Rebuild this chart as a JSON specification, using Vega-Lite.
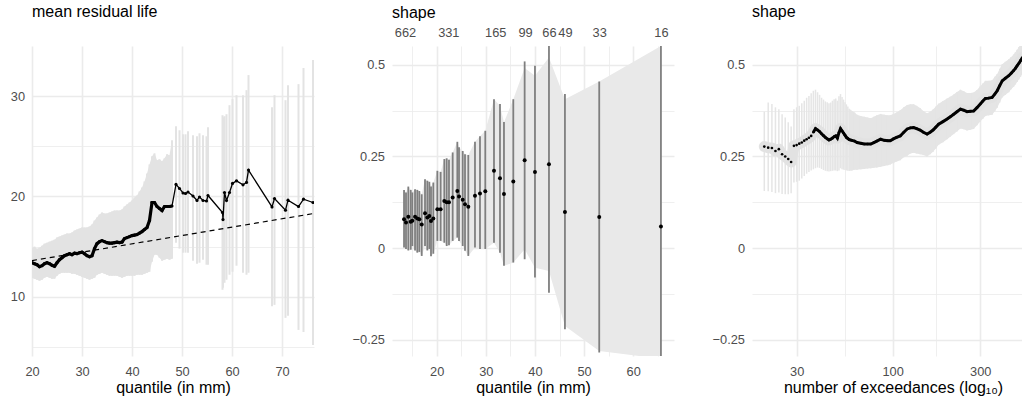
{
  "$schema": "https://vega.github.io/schema/vega-lite/v6.json",
  "padding": {"left": 0, "top": 4, "right": 0, "bottom": 0},
  "bounds": "flush",
  "spacing": 78,
  "config": {
    "font": "Liberation Sans",
    "view": {"stroke": null},
    "axis": {"ticks": false, "domain": false, "labelFontSize": 12.8, "labelColor": "#4D4D4D", "labelPadding": 7.5, "titleFontSize": 16, "titleFontWeight": "normal", "titleColor": "#000000", "titlePadding": 2, "gridColor": "#EBEBEB", "labelFlush": false, "labelOverlap": false},
    "title": {"fontSize": 16, "fontWeight": "normal", "anchor": "start", "frame": "group", "baseline": "alphabetic", "color": "#000000"}
  },
  "datasets": {
    "mrl": [
      {"u": 20, "m": 13.4, "lo": 11.9, "hi": 14.9}, {"u": 20.5, "m": 13.3, "lo": 11.8, "hi": 15.0}, {"u": 21, "m": 13.2, "lo": 11.7, "hi": 14.8}, {"u": 21.5, "m": 13.0, "lo": 11.6, "hi": 14.9},
      {"u": 22, "m": 13.1, "lo": 11.7, "hi": 15.1}, {"u": 22.5, "m": 13.3, "lo": 11.9, "hi": 15.3}, {"u": 23, "m": 13.4, "lo": 12.0, "hi": 15.4}, {"u": 23.5, "m": 13.3, "lo": 11.9, "hi": 15.5},
      {"u": 24, "m": 13.15, "lo": 11.8, "hi": 15.6}, {"u": 24.5, "m": 13.05, "lo": 11.8, "hi": 15.7}, {"u": 25, "m": 13.4, "lo": 12.1, "hi": 15.9}, {"u": 25.5, "m": 13.7, "lo": 12.3, "hi": 16.0},
      {"u": 26, "m": 13.9, "lo": 12.4, "hi": 16.1}, {"u": 26.5, "m": 14.1, "lo": 12.4, "hi": 16.2}, {"u": 27, "m": 14.2, "lo": 12.4, "hi": 16.3}, {"u": 27.5, "m": 14.3, "lo": 12.4, "hi": 16.3},
      {"u": 28, "m": 14.2, "lo": 12.3, "hi": 16.4}, {"u": 28.5, "m": 14.35, "lo": 12.3, "hi": 16.6}, {"u": 29, "m": 14.3, "lo": 12.2, "hi": 16.7}, {"u": 29.5, "m": 14.4, "lo": 12.1, "hi": 16.8},
      {"u": 30, "m": 14.45, "lo": 12.0, "hi": 16.9}, {"u": 30.5, "m": 14.3, "lo": 11.9, "hi": 16.9}, {"u": 31, "m": 14.1, "lo": 11.8, "hi": 16.9}, {"u": 31.5, "m": 14.0, "lo": 11.7, "hi": 17.0},
      {"u": 32, "m": 14.1, "lo": 11.8, "hi": 17.2}, {"u": 32.5, "m": 14.8, "lo": 11.9, "hi": 17.6}, {"u": 33, "m": 15.3, "lo": 12.2, "hi": 17.9}, {"u": 33.5, "m": 15.5, "lo": 12.3, "hi": 18.2},
      {"u": 34, "m": 15.6, "lo": 12.4, "hi": 18.4}, {"u": 34.5, "m": 15.5, "lo": 12.3, "hi": 18.3}, {"u": 35, "m": 15.4, "lo": 12.2, "hi": 18.3}, {"u": 35.5, "m": 15.35, "lo": 12.1, "hi": 18.4},
      {"u": 36, "m": 15.35, "lo": 12.1, "hi": 18.5}, {"u": 36.5, "m": 15.4, "lo": 12.1, "hi": 18.6}, {"u": 37, "m": 15.45, "lo": 12.1, "hi": 18.6}, {"u": 37.5, "m": 15.4, "lo": 12.0, "hi": 18.6},
      {"u": 38, "m": 15.45, "lo": 11.9, "hi": 18.7}, {"u": 38.5, "m": 15.8, "lo": 12.0, "hi": 19.0}, {"u": 39, "m": 15.9, "lo": 12.1, "hi": 19.2}, {"u": 39.5, "m": 16.0, "lo": 12.1, "hi": 19.4},
      {"u": 40, "m": 16.1, "lo": 12.1, "hi": 19.6}, {"u": 40.5, "m": 16.15, "lo": 12.1, "hi": 19.9}, {"u": 41, "m": 16.2, "lo": 12.2, "hi": 20.1}, {"u": 41.5, "m": 16.35, "lo": 12.2, "hi": 20.5},
      {"u": 42, "m": 16.5, "lo": 12.2, "hi": 20.9}, {"u": 42.5, "m": 16.7, "lo": 12.3, "hi": 21.5}, {"u": 43, "m": 16.9, "lo": 12.4, "hi": 22.3}, {"u": 43.5, "m": 17.6, "lo": 12.5, "hi": 23.2},
      {"u": 44, "m": 19.4, "lo": 13.5, "hi": 24.0}, {"u": 44.5, "m": 19.4, "lo": 14.2, "hi": 24.3}, {"u": 45, "m": 19.0, "lo": 14.2, "hi": 23.6}, {"u": 45.5, "m": 18.8, "lo": 13.9, "hi": 23.7},
      {"u": 46, "m": 18.6, "lo": 13.6, "hi": 23.5}, {"u": 46.5, "m": 19.0, "lo": 13.7, "hi": 23.8}, {"u": 47, "m": 19.0, "lo": 13.8, "hi": 24.2}, {"u": 47.5, "m": 19.0, "lo": 13.7, "hi": 24.1},
      {"u": 48, "m": 19.05, "lo": 13.8, "hi": 25.6},
      {"u": 48.8, "m": 21.2, "lo": 15.4, "hi": 27.0}, {"u": 49.5, "m": 20.8, "lo": 14.8, "hi": 26.6}, {"u": 50.2, "m": 20.35, "lo": 14.4, "hi": 26.2}, {"u": 50.7, "m": 20.3, "lo": 14.4, "hi": 26.2},
      {"u": 51.2, "m": 20.45, "lo": 14.4, "hi": 26.5}, {"u": 52.2, "m": 20.05, "lo": 13.6, "hi": 26.1}, {"u": 53.0, "m": 19.6, "lo": 13.3, "hi": 26.0}, {"u": 53.5, "m": 19.95, "lo": 13.4, "hi": 26.3},
      {"u": 54.2, "m": 19.6, "lo": 13.7, "hi": 26.1}, {"u": 54.9, "m": 19.55, "lo": 13.2, "hi": 26.0}, {"u": 55.2, "m": 20.1, "lo": 13.2, "hi": 26.9},
      {"u": 58.1, "m": 18.4, "lo": 10.7, "hi": 28.1}, {"u": 58.2, "m": 17.7, "lo": 10.9, "hi": 27.9}, {"u": 58.5, "m": 20.4, "lo": 11.4, "hi": 28.0}, {"u": 58.9, "m": 19.6, "lo": 11.7, "hi": 28.2},
      {"u": 59.5, "m": 20.4, "lo": 12.2, "hi": 29.1}, {"u": 60.1, "m": 21.3, "lo": 12.5, "hi": 29.7}, {"u": 60.9, "m": 21.56, "lo": 13.1, "hi": 30.1}, {"u": 62.2, "m": 21.16, "lo": 12.4, "hi": 30.1},
      {"u": 62.9, "m": 21.4, "lo": 12.2, "hi": 30.6}, {"u": 63.3, "m": 22.63, "lo": 12.4, "hi": 32.1},
      {"u": 68.0, "m": 18.96, "lo": 9.06, "hi": 28.9}, {"u": 68.5, "m": 19.8, "lo": 9.2, "hi": 30.1}, {"u": 70.7, "m": 18.63, "lo": 7.9, "hi": 29.6}, {"u": 71.2, "m": 19.63, "lo": 8.1, "hi": 31.1},
      {"u": 73.3, "m": 19.0, "lo": 6.7, "hi": 31.2}, {"u": 74.3, "m": 19.73, "lo": 6.5, "hi": 32.8}, {"u": 76.2, "m": 19.4, "lo": 5.2, "hi": 33.6}
    ],
    "fit": [{"u": 20, "f": 13.61}, {"u": 76.4, "f": 18.31}],
    "shp": [
      {"u": 13.35, "s": 0.079, "lo": 0.002, "hi": 0.159, "blo": 0.002, "bhi": 0.159},
      {"u": 13.75, "s": 0.070, "lo": -0.002, "hi": 0.152, "blo": -0.002, "bhi": 0.152},
      {"u": 14.22, "s": 0.086, "lo": -0.006, "hi": 0.168, "blo": -0.006, "bhi": 0.168},
      {"u": 14.71, "s": 0.072, "lo": -0.004, "hi": 0.159, "blo": -0.004, "bhi": 0.159},
      {"u": 15.04, "s": 0.075, "lo": 0.006, "hi": 0.152, "blo": 0.006, "bhi": 0.152},
      {"u": 15.59, "s": 0.086, "lo": -0.006, "hi": 0.161, "blo": -0.006, "bhi": 0.161},
      {"u": 16.05, "s": 0.081, "lo": -0.012, "hi": 0.159, "blo": -0.012, "bhi": 0.159},
      {"u": 16.46, "s": 0.079, "lo": -0.010, "hi": 0.156, "blo": -0.010, "bhi": 0.156},
      {"u": 16.95, "s": 0.065, "lo": -0.021, "hi": 0.147, "blo": -0.021, "bhi": 0.147},
      {"u": 17.62, "s": 0.095, "lo": 0.006, "hi": 0.188, "blo": 0.006, "bhi": 0.188},
      {"u": 18.09, "s": 0.084, "lo": -0.006, "hi": 0.184, "blo": -0.006, "bhi": 0.184},
      {"u": 18.50, "s": 0.088, "lo": -0.002, "hi": 0.181, "blo": -0.002, "bhi": 0.181},
      {"u": 18.84, "s": 0.074, "lo": -0.022, "hi": 0.168, "blo": -0.022, "bhi": 0.168},
      {"u": 19.31, "s": 0.081, "lo": -0.015, "hi": 0.179, "blo": -0.015, "bhi": 0.179},
      {"u": 20.13, "s": 0.106, "lo": 0.020, "hi": 0.211, "blo": 0.020, "bhi": 0.211},
      {"u": 20.80, "s": 0.106, "lo": 0.020, "hi": 0.208, "blo": 0.020, "bhi": 0.208},
      {"u": 21.55, "s": 0.129, "lo": 0.015, "hi": 0.243, "blo": 0.015, "bhi": 0.243},
      {"u": 22.03, "s": 0.125, "lo": 0.006, "hi": 0.245, "blo": 0.006, "bhi": 0.245},
      {"u": 22.50, "s": 0.125, "lo": 0.008, "hi": 0.241, "blo": 0.008, "bhi": 0.241},
      {"u": 23.25, "s": 0.138, "lo": 0.020, "hi": 0.261, "blo": 0.020, "bhi": 0.261},
      {"u": 24.20, "s": 0.156, "lo": 0.029, "hi": 0.290, "blo": 0.029, "bhi": 0.290},
      {"u": 24.54, "s": 0.141, "lo": 0.020, "hi": 0.275, "blo": 0.020, "bhi": 0.275},
      {"u": 25.29, "s": 0.132, "lo": 0.006, "hi": 0.265, "blo": 0.006, "bhi": 0.265},
      {"u": 25.76, "s": 0.120, "lo": -0.007, "hi": 0.256, "blo": -0.007, "bhi": 0.256},
      {"u": 26.43, "s": 0.113, "lo": -0.021, "hi": 0.254, "blo": -0.021, "bhi": 0.254},
      {"u": 27.79, "s": 0.143, "lo": 0.002, "hi": 0.290, "blo": 0.002, "bhi": 0.290},
      {"u": 28.81, "s": 0.149, "lo": -0.002, "hi": 0.305, "blo": -0.002, "bhi": 0.305},
      {"u": 29.89, "s": 0.155, "lo": -0.002, "hi": 0.320, "blo": -0.002, "bhi": 0.320},
      {"u": 31.66, "s": 0.211, "lo": 0.015, "hi": 0.406, "blo": 0.015, "bhi": 0.406},
      {"u": 32.88, "s": 0.191, "lo": -0.012, "hi": 0.393, "blo": -0.012, "bhi": 0.388},
      {"u": 33.69, "s": 0.148, "lo": -0.048, "hi": 0.344, "blo": -0.048, "bhi": 0.343},
      {"u": 35.59, "s": 0.182, "lo": -0.039, "hi": 0.406, "blo": -0.039, "bhi": 0.406},
      {"u": 37.90, "s": 0.240, "lo": -0.030, "hi": 0.509, "blo": -0.003, "bhi": 0.491},
      {"u": 40.00, "s": 0.208, "lo": -0.080, "hi": 0.497, "blo": -0.053, "bhi": 0.470},
      {"u": 42.85, "s": 0.229, "lo": -0.121, "hi": 0.600, "blo": -0.062, "bhi": 0.520},
      {"u": 46.10, "s": 0.099, "lo": -0.221, "hi": 0.420, "blo": -0.212, "bhi": 0.406},
      {"u": 53.08, "s": 0.085, "lo": -0.284, "hi": 0.454, "blo": -0.280, "bhi": 0.454},
      {"u": 65.64, "s": 0.059, "lo": -0.320, "hi": 0.600, "blo": -0.301, "bhi": 0.551}
    ],
    "nex": [
      {"n": 20, "s": 0.277, "lo": 0.156, "hi": 0.372}, {"n": 21, "s": 0.274, "lo": 0.155, "hi": 0.397}, {"n": 22, "s": 0.273, "lo": 0.153, "hi": 0.393}, {"n": 23, "s": 0.265, "lo": 0.150, "hi": 0.384},
      {"n": 24, "s": 0.270, "lo": 0.152, "hi": 0.379}, {"n": 25, "s": 0.256, "lo": 0.148, "hi": 0.365}, {"n": 26, "s": 0.250, "lo": 0.147, "hi": 0.356}, {"n": 27, "s": 0.243, "lo": 0.147, "hi": 0.343},
      {"n": 28, "s": 0.235, "lo": 0.150, "hi": 0.332}, {"n": 29, "s": 0.279, "lo": 0.179, "hi": 0.379}, {"n": 30, "s": 0.281, "lo": 0.181, "hi": 0.384}, {"n": 31, "s": 0.285, "lo": 0.184, "hi": 0.388},
      {"n": 32, "s": 0.288, "lo": 0.190, "hi": 0.395}, {"n": 33, "s": 0.293, "lo": 0.197, "hi": 0.402}, {"n": 34, "s": 0.297, "lo": 0.203, "hi": 0.410}, {"n": 35, "s": 0.301, "lo": 0.208, "hi": 0.415},
      {"n": 36, "s": 0.306, "lo": 0.212, "hi": 0.422}, {"n": 37, "s": 0.316, "lo": 0.215, "hi": 0.429}, {"n": 38, "s": 0.326, "lo": 0.218, "hi": 0.432}, {"n": 39, "s": 0.322, "lo": 0.220, "hi": 0.425},
      {"n": 40, "s": 0.318, "lo": 0.219, "hi": 0.418}, {"n": 41, "s": 0.312, "lo": 0.216, "hi": 0.410}, {"n": 42, "s": 0.307, "lo": 0.213, "hi": 0.405}, {"n": 43, "s": 0.302, "lo": 0.211, "hi": 0.400},
      {"n": 44, "s": 0.298, "lo": 0.210, "hi": 0.398}, {"n": 45, "s": 0.295, "lo": 0.209, "hi": 0.395}, {"n": 46, "s": 0.297, "lo": 0.210, "hi": 0.397}, {"n": 47, "s": 0.300, "lo": 0.211, "hi": 0.402},
      {"n": 48, "s": 0.304, "lo": 0.212, "hi": 0.406}, {"n": 49, "s": 0.306, "lo": 0.212, "hi": 0.408}, {"n": 50, "s": 0.300, "lo": 0.210, "hi": 0.402}, {"n": 51, "s": 0.315, "lo": 0.212, "hi": 0.414},
      {"n": 52, "s": 0.326, "lo": 0.218, "hi": 0.420}, {"n": 53, "s": 0.320, "lo": 0.215, "hi": 0.412}, {"n": 54, "s": 0.314, "lo": 0.214, "hi": 0.405}, {"n": 55, "s": 0.308, "lo": 0.213, "hi": 0.398},
      {"n": 56, "s": 0.302, "lo": 0.212, "hi": 0.392}, {"n": 57, "s": 0.299, "lo": 0.211, "hi": 0.386}, {"n": 58, "s": 0.296, "lo": 0.211, "hi": 0.380}, {"n": 59, "s": 0.295, "lo": 0.212, "hi": 0.377},
      {"n": 60, "s": 0.294, "lo": 0.212, "hi": 0.374}, {"n": 62, "s": 0.292, "lo": 0.214, "hi": 0.370}, {"n": 64, "s": 0.288, "lo": 0.214, "hi": 0.364}, {"n": 67, "s": 0.286, "lo": 0.215, "hi": 0.360},
      {"n": 70, "s": 0.284, "lo": 0.216, "hi": 0.358}, {"n": 73, "s": 0.284, "lo": 0.217, "hi": 0.356}, {"n": 76, "s": 0.284, "lo": 0.218, "hi": 0.354}, {"n": 79, "s": 0.288, "lo": 0.219, "hi": 0.358},
      {"n": 82, "s": 0.292, "lo": 0.220, "hi": 0.362}, {"n": 86, "s": 0.297, "lo": 0.222, "hi": 0.366}, {"n": 90, "s": 0.294, "lo": 0.224, "hi": 0.364}, {"n": 94, "s": 0.293, "lo": 0.226, "hi": 0.362},
      {"n": 97, "s": 0.293, "lo": 0.228, "hi": 0.362}, {"n": 101, "s": 0.298, "lo": 0.232, "hi": 0.366}, {"n": 105, "s": 0.302, "lo": 0.236, "hi": 0.370}, {"n": 110, "s": 0.306, "lo": 0.240, "hi": 0.376},
      {"n": 115, "s": 0.316, "lo": 0.248, "hi": 0.384}, {"n": 120, "s": 0.325, "lo": 0.252, "hi": 0.390}, {"n": 125, "s": 0.328, "lo": 0.258, "hi": 0.392}, {"n": 130, "s": 0.329, "lo": 0.260, "hi": 0.392},
      {"n": 135, "s": 0.326, "lo": 0.258, "hi": 0.388}, {"n": 141, "s": 0.322, "lo": 0.256, "hi": 0.382}, {"n": 147, "s": 0.316, "lo": 0.254, "hi": 0.374}, {"n": 154, "s": 0.311, "lo": 0.250, "hi": 0.368},
      {"n": 160, "s": 0.316, "lo": 0.256, "hi": 0.372}, {"n": 166, "s": 0.322, "lo": 0.263, "hi": 0.378}, {"n": 172, "s": 0.330, "lo": 0.272, "hi": 0.386}, {"n": 178, "s": 0.338, "lo": 0.282, "hi": 0.394},
      {"n": 188, "s": 0.345, "lo": 0.289, "hi": 0.401}, {"n": 198, "s": 0.352, "lo": 0.297, "hi": 0.408}, {"n": 206, "s": 0.358, "lo": 0.304, "hi": 0.413}, {"n": 215, "s": 0.365, "lo": 0.311, "hi": 0.419},
      {"n": 224, "s": 0.372, "lo": 0.318, "hi": 0.426}, {"n": 234, "s": 0.379, "lo": 0.326, "hi": 0.432}, {"n": 244, "s": 0.376, "lo": 0.324, "hi": 0.428}, {"n": 254, "s": 0.372, "lo": 0.321, "hi": 0.423},
      {"n": 265, "s": 0.373, "lo": 0.323, "hi": 0.423}, {"n": 276, "s": 0.374, "lo": 0.325, "hi": 0.424}, {"n": 288, "s": 0.383, "lo": 0.335, "hi": 0.431}, {"n": 300, "s": 0.393, "lo": 0.345, "hi": 0.441},
      {"n": 310, "s": 0.401, "lo": 0.353, "hi": 0.449}, {"n": 320, "s": 0.408, "lo": 0.360, "hi": 0.456}, {"n": 333, "s": 0.409, "lo": 0.362, "hi": 0.456}, {"n": 348, "s": 0.411, "lo": 0.364, "hi": 0.458},
      {"n": 360, "s": 0.420, "lo": 0.373, "hi": 0.467}, {"n": 371, "s": 0.429, "lo": 0.383, "hi": 0.475}, {"n": 383, "s": 0.443, "lo": 0.397, "hi": 0.489}, {"n": 395, "s": 0.456, "lo": 0.411, "hi": 0.501},
      {"n": 411, "s": 0.463, "lo": 0.418, "hi": 0.508}, {"n": 429, "s": 0.470, "lo": 0.425, "hi": 0.515}, {"n": 442, "s": 0.477, "lo": 0.433, "hi": 0.521}, {"n": 456, "s": 0.484, "lo": 0.440, "hi": 0.528},
      {"n": 466, "s": 0.490, "lo": 0.446, "hi": 0.534}, {"n": 476, "s": 0.497, "lo": 0.453, "hi": 0.541}, {"n": 487, "s": 0.504, "lo": 0.460, "hi": 0.548}, {"n": 497, "s": 0.511, "lo": 0.467, "hi": 0.555},
      {"n": 510, "s": 0.520, "lo": 0.476, "hi": 0.564}
    ]
  },
  "hconcat": [
    {
      "width": 282, "height": 310,
      "title": {"text": "mean residual life", "offset": 26},
      "layer": [
        {
          "data": {"name": "mrl"},
          "transform": [{"filter": "datum.u <= 48"}],
          "mark": {"type": "area", "color": "#E3E3E3", "clip": true},
          "encoding": {
            "x": {"field": "u", "type": "quantitative", "title": "quantile (in mm)",
                  "scale": {"domain": [20, 76.4], "nice": false, "zero": false},
                  "axis": {"values": [20, 25, 30, 35, 40, 45, 50, 55, 60, 65, 70, 75], "labelPadding": 9,
                           "labelExpr": "datum.value % 10 == 0 ? datum.label : ''",
                           "gridWidth": {"condition": {"test": "datum.value % 10 == 0", "value": 1.6}, "value": 0.8}}},
            "y": {"field": "lo", "type": "quantitative", "title": null,
                  "scale": {"domain": [4.1, 35], "nice": false, "zero": false},
                  "axis": {"values": [5, 10, 15, 20, 25, 30], "minExtent": 32, "maxExtent": 32,
                           "labelExpr": "datum.value % 10 == 0 ? datum.label : ''",
                           "gridWidth": {"condition": {"test": "datum.value % 10 == 0", "value": 1.6}, "value": 0.8}}},
            "y2": {"field": "hi"}
          }
        },
        {
          "data": {"name": "mrl"},
          "mark": {"type": "rule", "color": "#E3E3E3", "strokeWidth": 2, "clip": true},
          "encoding": {"x": {"field": "u", "type": "quantitative"}, "y": {"field": "lo", "type": "quantitative"}, "y2": {"field": "hi"}}
        },
        {
          "data": {"name": "fit"},
          "mark": {"type": "line", "color": "#000000", "strokeWidth": 1.2, "strokeDash": [5, 4], "clip": true},
          "encoding": {"x": {"field": "u", "type": "quantitative"}, "y": {"field": "f", "type": "quantitative"}}
        },
        {
          "data": {"name": "mrl"},
          "mark": {"type": "line", "color": "#000000", "strokeWidth": 1.3, "clip": true},
          "encoding": {"x": {"field": "u", "type": "quantitative"}, "y": {"field": "m", "type": "quantitative"}}
        },
        {
          "data": {"name": "mrl"},
          "transform": [{"filter": "datum.u <= 48"}],
          "mark": {"type": "line", "color": "#000000", "strokeWidth": 3.2, "clip": true},
          "encoding": {"x": {"field": "u", "type": "quantitative"}, "y": {"field": "m", "type": "quantitative"}}
        },
        {
          "data": {"name": "mrl"},
          "mark": {"type": "point", "filled": true, "color": "#000000", "opacity": 1, "size": 10, "clip": true},
          "encoding": {"x": {"field": "u", "type": "quantitative"}, "y": {"field": "m", "type": "quantitative"}}
        }
      ]
    },
    {
      "width": 282, "height": 310,
      "title": {"text": "shape", "offset": 6},
      "resolve": {"axis": {"x": "independent"}},
      "layer": [
        {
          "data": {"name": "shp"},
          "mark": {"type": "area", "color": "#E9E9E9", "clip": true},
          "encoding": {
            "x": {"field": "u", "type": "quantitative", "title": "quantile (in mm)",
                  "scale": {"domain": [10.9, 68.3], "nice": false, "zero": false},
                  "axis": {"values": [15, 20, 25, 30, 35, 40, 45, 50, 55, 60, 65], "labelPadding": 9,
                           "labelExpr": "datum.value % 10 == 0 ? datum.label : ''",
                           "gridWidth": {"condition": {"test": "datum.value % 10 == 0", "value": 1.6}, "value": 0.8}}},
            "y": {"field": "blo", "type": "quantitative", "title": null,
                  "scale": {"domain": [-0.2936, 0.551], "nice": false, "zero": false},
                  "axis": {"values": [-0.25, -0.125, 0, 0.125, 0.25, 0.375, 0.5],
                           "labelExpr": "datum.value == 0 ? '0' : datum.value == 0.25 ? '0.25' : datum.value == 0.5 ? '0.5' : datum.value == -0.25 ? '\u22120.25' : ''",
                           "gridWidth": {"condition": {"test": "abs(datum.value * 4 - round(datum.value * 4)) < 0.01", "value": 1.6}, "value": 0.8}}},
            "y2": {"field": "bhi"}
          }
        },
        {
          "data": {"name": "shp"},
          "mark": {"type": "rule", "color": "#7F7F7F", "strokeWidth": 1.8, "clip": true},
          "encoding": {"x": {"field": "u", "type": "quantitative", "axis": null}, "y": {"field": "lo", "type": "quantitative"}, "y2": {"field": "hi"}}
        },
        {
          "data": {"name": "shp"},
          "mark": {"type": "point", "filled": true, "color": "#000000", "opacity": 1, "size": 16, "clip": true},
          "encoding": {
            "x": {"field": "u", "type": "quantitative", "title": null,
                  "axis": {"orient": "top", "grid": false, "labelPadding": 6.5,
                           "values": [13.55, 22.36, 31.92, 37.97, 42.85, 46.1, 53.08, 65.64],
                           "labelExpr": "datum.value < 18 ? '662' : datum.value < 27 ? '331' : datum.value < 35 ? '165' : datum.value < 40 ? '99' : datum.value < 44 ? '66' : datum.value < 50 ? '49' : datum.value < 60 ? '33' : '16'"}},
            "y": {"field": "s", "type": "quantitative"}
          }
        }
      ]
    },
    {
      "width": 282, "height": 310,
      "title": {"text": "shape", "offset": 26},
      "layer": [
        {
          "data": {"name": "nex"},
          "transform": [{"filter": "datum.n >= 58"}],
          "mark": {"type": "area", "color": "#E5E5E5", "clip": true},
          "encoding": {
            "x": {"field": "n", "type": "quantitative", "title": "number of exceedances (log\u2081\u2080)",
                  "scale": {"type": "log", "domain": [17.14, 588.6], "nice": false},
                  "axis": {"values": [30, 54.77, 100, 173.2, 300, 547.7], "labelPadding": 9,
                           "labelExpr": "datum.value == 30 ? '30' : datum.value == 100 ? '100' : datum.value == 300 ? '300' : ''",
                           "gridWidth": {"condition": {"test": "datum.value == 30 || datum.value == 100 || datum.value == 300", "value": 1.6}, "value": 0.8}}},
            "y": {"field": "lo", "type": "quantitative", "title": null,
                  "scale": {"domain": [-0.2936, 0.551], "nice": false, "zero": false},
                  "axis": {"values": [-0.25, -0.125, 0, 0.125, 0.25, 0.375, 0.5],
                           "labelExpr": "datum.value == 0 ? '0' : datum.value == 0.25 ? '0.25' : datum.value == 0.5 ? '0.5' : datum.value == -0.25 ? '\u22120.25' : ''",
                           "gridWidth": {"condition": {"test": "abs(datum.value * 4 - round(datum.value * 4)) < 0.01", "value": 1.6}, "value": 0.8}}},
            "y2": {"field": "hi"}
          }
        },
        {
          "data": {"name": "nex"},
          "mark": {"type": "rule", "color": "#E5E5E5", "strokeWidth": 1.5, "clip": true},
          "encoding": {"x": {"field": "n", "type": "quantitative"}, "y": {"field": "lo", "type": "quantitative"}, "y2": {"field": "hi"}}
        },
        {
          "data": {"name": "nex"},
          "mark": {"type": "line", "color": "#E2E2E2", "strokeWidth": 11, "strokeCap": "round", "strokeJoin": "round", "clip": true},
          "encoding": {"x": {"field": "n", "type": "quantitative"}, "y": {"field": "s", "type": "quantitative"}}
        },
        {
          "data": {"name": "nex"},
          "transform": [{"filter": "datum.n >= 37"}],
          "mark": {"type": "line", "color": "#000000", "strokeWidth": 3, "clip": true},
          "encoding": {"x": {"field": "n", "type": "quantitative"}, "y": {"field": "s", "type": "quantitative"}}
        },
        {
          "data": {"name": "nex"},
          "mark": {"type": "point", "filled": true, "color": "#000000", "opacity": 1, "size": 7, "clip": true},
          "encoding": {"x": {"field": "n", "type": "quantitative"}, "y": {"field": "s", "type": "quantitative"}}
        }
      ]
    }
  ]
}
